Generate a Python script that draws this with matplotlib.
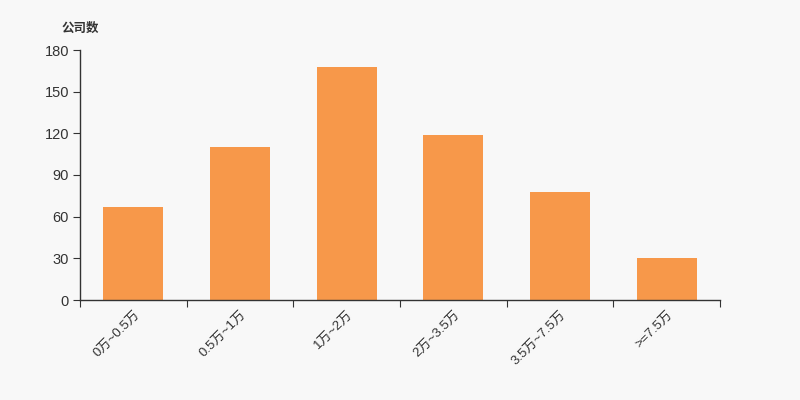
import numpy as np
import matplotlib.pyplot as plt

plt.rcParams['font.family'] = ['Liberation Sans', 'Noto Sans CJK SC', 'DejaVu Sans']

# 数据
categories = ['0万~0.5万', '0.5万~1万', '1万~2万', '2万~3.5万', '3.5万~7.5万', '>=7.5万']
counts = [67, 110, 168, 119, 78, 30]
yticks = [0, 30, 60, 90, 120, 150, 180]

bg = '#f8f8f8'
bar_color = '#f7984a'
axis_color = '#333333'

fig = plt.figure(figsize=(8, 4), dpi=100, facecolor=bg)
ax = fig.add_axes([0.1, 0.25, 0.8, 0.625], facecolor=bg)

x = np.arange(len(categories))
ax.bar(x, counts, width=0.56, color=bar_color, zorder=2)

ax.set_xlim(-0.5, len(categories) - 0.5)
ax.set_ylim(0, 180)
ax.set_yticks(yticks)
ax.tick_params(axis='y', length=5, color=axis_color, labelsize=10.5, labelcolor='#333333', pad=3)

# x 轴刻度在类别边界上，标签在类别中间
ax.set_xticks(np.arange(len(categories) + 1) - 0.5)
ax.set_xticklabels([])
ax.set_xticks(x, minor=True)
ax.set_xticklabels(categories, minor=True, rotation=45, ha='right', va='top',
                   rotation_mode='anchor', fontsize=9.5, color='#333333')
ax.tick_params(axis='x', which='major', length=5, color=axis_color)
ax.tick_params(axis='x', which='minor', length=0, pad=6)

for s in ['top', 'right']:
    ax.spines[s].set_visible(False)
for s in ['left', 'bottom']:
    ax.spines[s].set_color(axis_color)
    ax.spines[s].set_linewidth(1)

fig.text(0.0775, 0.93, '公司数', fontsize=9, fontweight='bold', color='#333333', va='center',
         family=['Noto Sans CJK SC', 'DejaVu Sans'])

fig.savefig('out.png', dpi=100, facecolor=bg)
